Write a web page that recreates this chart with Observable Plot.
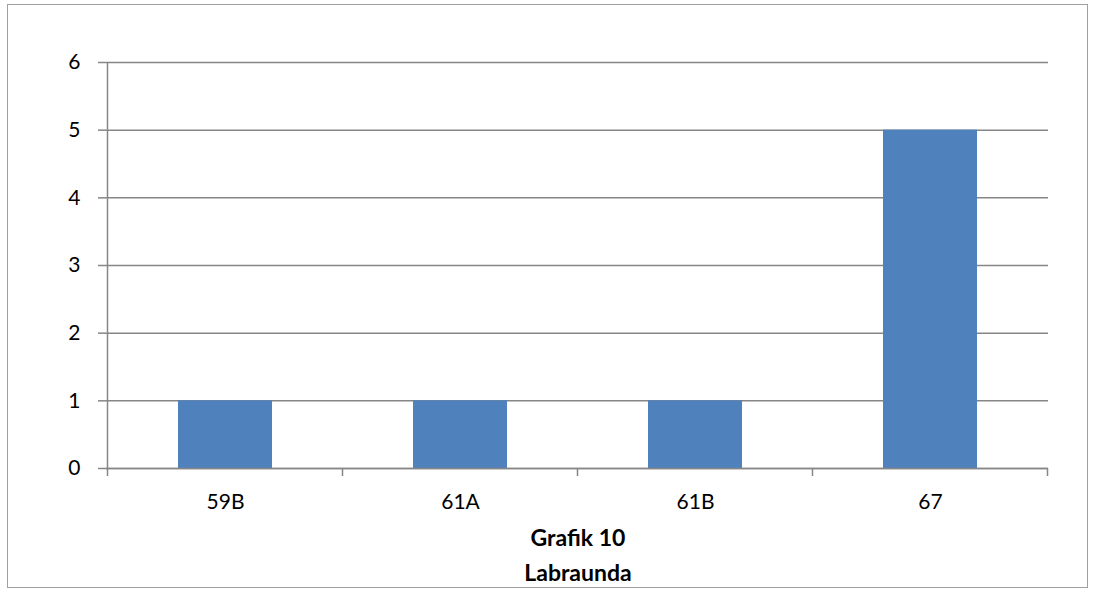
<!DOCTYPE html>
<html>
<head>
<meta charset="utf-8">
<script src="https://cdn.jsdelivr.net/npm/d3@7"></script>
<script src="https://cdn.jsdelivr.net/npm/@observablehq/plot@0.6"></script>
<style>
  html, body { margin: 0; padding: 0; background: #fff; }
  #wrap { position: relative; width: 1096px; height: 590px; overflow: hidden; font-family: Lato, "Open Sans", sans-serif; }
  #frame { position: absolute; left: 7px; top: 4px; width: 1081px; height: 584px; border: 1.5px solid #a0a0a0; box-sizing: border-box; }
  #chart { position: absolute; left: 0; top: 0; }
  .ttl { position: absolute; left: 428px; width: 300px; text-align: center; font-weight: bold; font-size: 23px; line-height: 28px; color: #000; }
</style>
</head>
<body>
<div id="wrap">
  <div id="frame"></div>
  <div id="chart"></div>
  <div class="ttl" id="t1" style="top:523px"></div>
  <div class="ttl" id="t2" style="top:558px"></div>
</div>
<script>
const categories = ["59B", "61A", "61B", "67"];
const counts = [1, 1, 1, 5];
const yTicks = [0, 1, 2, 3, 4, 5, 6];
const titleLines = ["Grafik 10", "Labraunda"];

const data = categories.map((c, i) => ({cat: c, n: counts[i]}));
const axisColor = "#868686";

// Excel-style axis lines: vertical y axis line and x tick marks at category boundaries
function axisLines(index, scales, values, dims) {
  const x = scales.x, y = scales.y;
  const step = x.step(), bw = x.bandwidth();
  const g = d3.create("svg:g").attr("stroke", axisColor).attr("stroke-width", 1.5);
  const xs = categories.map(c => x(c) + bw / 2 - step / 2);
  xs.push(x(categories[categories.length - 1]) + bw / 2 + step / 2);
  const y0 = y(0);
  for (const px of xs) {
    g.append("line").attr("x1", px).attr("x2", px).attr("y1", y0).attr("y2", y0 + 8);
  }
  g.append("line").attr("x1", xs[0]).attr("x2", xs[0]).attr("y1", y(6)).attr("y2", y0);
  return g.node();
}

const chart = Plot.plot({
  width: 1096,
  height: 525,
  marginLeft: 106,
  marginRight: 48,
  marginTop: 62,
  marginBottom: 57,
  style: {fontFamily: "Lato, 'Open Sans', sans-serif", fontSize: "21px", color: "#000", background: "transparent"},
  x: {domain: categories, paddingInner: 0.6, paddingOuter: 0.3, label: null},
  y: {domain: [0, 6], label: null},
  marks: [
    Plot.ruleY(yTicks, {stroke: axisColor, strokeWidth: 1.5, strokeOpacity: 1}),
    Plot.barY(data, {x: "cat", y: "n", fill: "#4F81BD"}),
    Plot.ruleY([0], {stroke: axisColor, strokeWidth: 1.5}),
    axisLines,
    Plot.axisY({ticks: yTicks, tickSize: 8, tickPadding: 18, stroke: axisColor, strokeWidth: 1.5, strokeOpacity: 1, fontSize: 21, tickFormat: d => String(d)}),
    Plot.axisX({tickSize: 0, tickPadding: 26, fontSize: 21})
  ]
});
document.getElementById("chart").appendChild(chart);
document.getElementById("t1").textContent = titleLines[0];
document.getElementById("t2").textContent = titleLines[1];
</script>
</body>
</html>
